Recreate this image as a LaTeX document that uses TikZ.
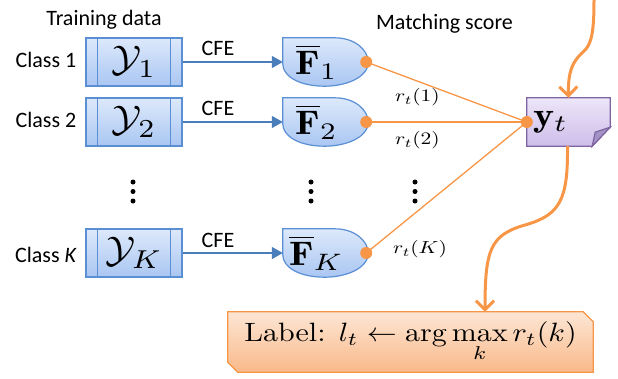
\documentclass[tikz,border=0pt]{standalone}
\usepackage{amsmath,amssymb}
\usepackage{graphicx}
\usepackage{fontspec}
\newfontfamily\calib{Carlito}
\usetikzlibrary{arrows.meta,calc}
\pgfdeclarelayer{bg}\pgfsetlayers{bg,main}
\definecolor{bborder}{HTML}{5B8FD4}
\definecolor{barrowc}{HTML}{4A7EBB}
\definecolor{btop}{HTML}{DDE9FB}
\definecolor{bbot}{HTML}{A9C6F2}
\definecolor{oran}{HTML}{F79646}
\definecolor{otop}{HTML}{FDE6D4}
\definecolor{obot}{HTML}{F9B98A}
\definecolor{pborder}{HTML}{8064A2}
\definecolor{ptop}{HTML}{EDE6F8}
\definecolor{pbot}{HTML}{CDBDEA}
\definecolor{pfold}{HTML}{A493C6}
\newcommand\fshape[1]{%
  \path[draw=bborder, line width=1.2pt, top color=btop, bottom color=bbot]
    (#1.north west) -- ($(#1.north west)+(52,0)$)
    .. controls ($(#1.north west)+(72,0)$) and ($(#1.east)+(0,-12)$) .. (#1.east)
    .. controls ($(#1.east)+(0,16)$) and ($(#1.south west)+(62,0)$) .. ($(#1.south west)+(42,0)$)
    .. controls ($(#1.south west)+(16,0)$) and ($(#1.west)+(0,14)$) .. ($(#1.west)+(0,2)$)
    -- cycle;}
\newcommand\ylines[1]{%
  \draw[bborder, line width=1.2pt] ([xshift=12pt]#1.north west) -- ([xshift=12pt]#1.south west);
  \draw[bborder, line width=1.2pt] ([xshift=-12pt]#1.north east) -- ([xshift=-12pt]#1.south east);}
\newcommand\Ysym[1]{\scalebox{4.0}[3.7]{$\mathcal{Y}_{#1}$}}
\newcommand\Fsym[1]{\hspace*{-18pt}\scalebox{3.9}[3.4]{$\overline{\mathbf{F}}_{#1}$}}
\newcommand\rsym[1]{\scalebox{2.15}[1.75]{$r_t(#1)$}}
\begin{document}
\begin{tikzpicture}[x=1pt,y=-1pt,
  txt/.style={font=\calib\fontsize{22}{26}\selectfont, inner sep=0pt, anchor=base},
  ybox/.style={draw=bborder, line width=1.2pt, top color=btop, bottom color=bbot,
    minimum width=96pt, minimum height=48pt, inner sep=0pt},
  fnode/.style={minimum width=85pt, minimum height=48pt, inner sep=0pt},
  barrow/.style={barrowc, line width=1.3pt, -{Triangle[length=11pt,width=12pt]}},
  oline/.style={oran, line width=1.3pt},
  odot/.style={fill=oran},
  bigarrow/.style={oran, line width=3pt, -{Straight Barb[length=9pt,width=18pt]}},
  rlab/.style={inner sep=0pt}]
\useasboundingbox (0,0) rectangle (618,378);

% headings
\node[txt] (train) at (104,25) {Training data};
\node[txt] (match) at (444.5,29) {Matching score};

% class labels
\node[txt] (c1) at (46,67) {Class 1};
\node[txt] (c2) at (46,127) {Class 2};
\node[txt] (cK) at (46,262) {Class \textit{K}};

% Y boxes
\node[ybox] (Y1) at (134,62) {\Ysym{1}};
\node[ybox] (Y2) at (134,122) {\Ysym{2}};
\node[ybox] (YK) at (134,253) {\Ysym{K}};
\ylines{Y1}\ylines{Y2}\ylines{YK}

% F nodes
\node[fnode] (F1) at (325.5,62) {\Fsym{1}};
\node[fnode] (F2) at (325.5,122) {\Fsym{2}};
\node[fnode] (FK) at (325.5,253) {\Fsym{K}};
\begin{pgfonlayer}{bg}
\fshape{F1}\fshape{F2}\fshape{FK}
\end{pgfonlayer}

% CFE arrows
\draw[barrow] (Y1.east) -- (F1.west);
\draw[barrow] (Y2.east) -- (F2.west);
\draw[barrow] (YK.east) -- (FK.west);
\node[txt] (cfe1) at (218,55) {CFE};
\node[txt] (cfe2) at (218,115) {CFE};
\node[txt] (cfeK) at (218,247) {CFE};

% vertical dots
\foreach \x in {133,311,415}{
  \foreach \y in {182,191.5,201}{\fill (\x,\y) circle (2.5pt);}}

% y_t node
\node[minimum width=83pt, minimum height=48pt, inner xsep=6pt, inner ysep=0pt,
  text width=71pt, align=left] (yt) at (568.5,122) {\scalebox{4.0}[3.4]{$\mathbf{y}_t$}};
\begin{pgfonlayer}{bg}
\path[draw=pborder, line width=1.2pt, top color=ptop, bottom color=pbot]
  (yt.north west) -- (yt.north east) -- ($(yt.south east)+(0,-19)$)
  -- ($(yt.south east)+(-18,0)$) -- (yt.south west) -- cycle;
\path[draw=pborder, line width=1.2pt, fill=pfold]
  ($(yt.south east)+(0,-19)$) -- ($(yt.south east)+(-15,-14)$) -- ($(yt.south east)+(-18,0)$) -- cycle;
\end{pgfonlayer}

% matching lines
\draw[oline] ([xshift=-2pt]F1.east) -- (yt.west);
\draw[oline] ([xshift=-2pt]F2.east) -- (yt.west);
\draw[oline] ([xshift=-2pt]FK.east) -- (yt.west);
\fill[odot] ([xshift=-2pt]F1.east) circle (6pt);
\fill[odot] ([xshift=-2pt]F2.east) circle (6pt);
\fill[odot] ([xshift=-2pt]FK.east) circle (6pt);
\fill[odot] (yt.west) circle (6pt);
\node[rlab] (r1) at (417.5,97) {\rsym{1}};
\node[rlab] (r2) at (417.5,140) {\rsym{2}};
\node[rlab] (rK) at (420,249) {\rsym{K}};

% label box
\node[minimum width=365pt, minimum height=60pt, inner sep=0pt]
  (lab) at (410.5,342) {\scalebox{3.0}[2.65]{Label: $\displaystyle l_t \leftarrow \arg\max_k r_t(k)$}};
\begin{pgfonlayer}{bg}
\path[draw=oran, line width=1.2pt, top color=otop, bottom color=obot]
  (lab.north west) -- ($(lab.north east)+(-10,0)$) -- ($(lab.north east)+(0,10)$)
  -- (lab.south east) -- ($(lab.south west)+(10,0)$) -- ($(lab.south west)+(0,-10)$) -- cycle;
\end{pgfonlayer}

% big orange arrows
\coordinate (topin) at (594,0);
\draw[bigarrow] (topin) .. controls (594,30) and (592,45) .. (583,52)
  .. controls (572,62) and (568,72) .. (yt.north);
\draw[bigarrow] ([xshift=-1pt]yt.south) .. controls (568,200) and (560,215) .. (525,225)
  .. controls (490,235) and (485,250) .. ([xshift=74.5pt]lab.north);
\end{tikzpicture}
\end{document}
